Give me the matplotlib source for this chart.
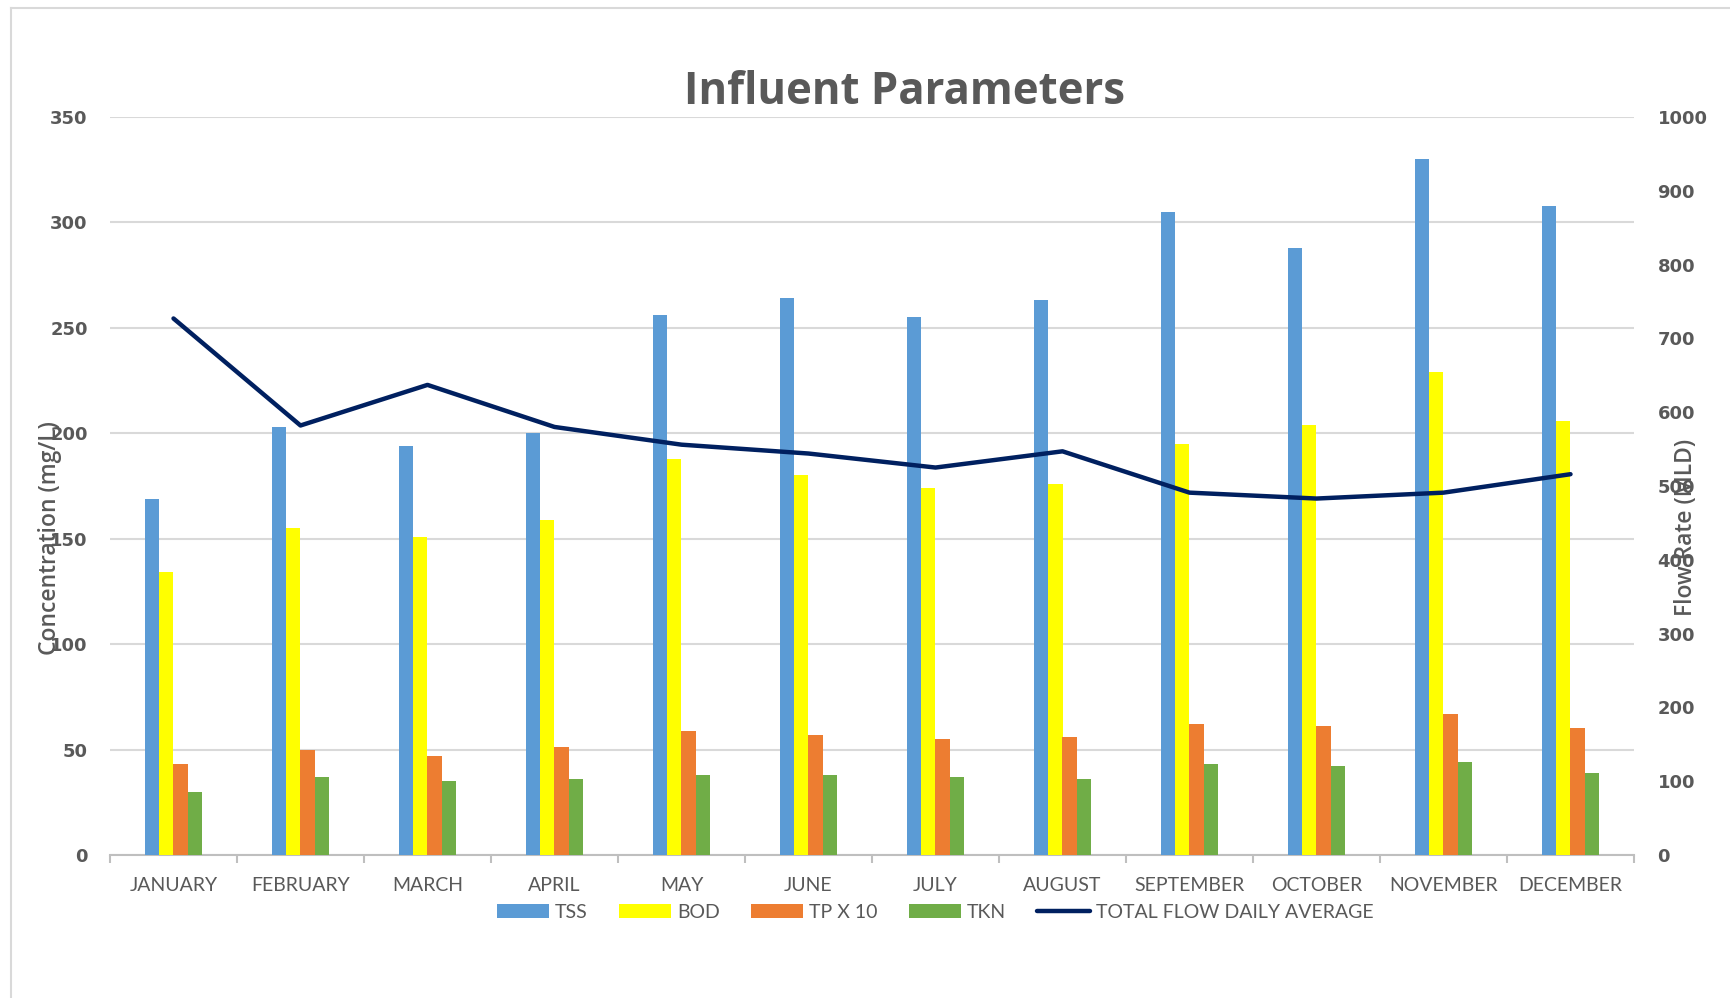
import matplotlib
matplotlib.use("Agg")
import matplotlib.pyplot as plt
import numpy as np
from matplotlib.patches import Patch
from matplotlib.lines import Line2D

months = ["JANUARY", "FEBRUARY", "MARCH", "APRIL", "MAY", "JUNE", "JULY",
          "AUGUST", "SEPTEMBER", "OCTOBER", "NOVEMBER", "DECEMBER"]
tss = [169, 203, 194, 200, 256, 264, 255, 263, 305, 288, 330, 308]
bod = [134, 155, 151, 159, 188, 180, 174, 176, 195, 204, 229, 206]
tp_x10 = [43, 50, 47, 51, 59, 57, 55, 56, 62, 61, 67, 60]
tkn = [30, 37, 35, 36, 38, 38, 37, 36, 43, 42, 44, 39]
flow = [727, 582, 637, 580, 556, 544, 525, 547, 491, 483, 491, 516]

series_names = ["TSS", "BOD", "TP X 10", "TKN"]
series_vals = [tss, bod, tp_x10, tkn]
colors = ["#5B9BD5", "#FFFF00", "#ED7D31", "#70AD47"]
line_color = "#002060"
text_gray = "#595959"
grid_gray = "#D9D9D9"

W, H = 1731, 998
fig = plt.figure(figsize=(W / 100, H / 100), dpi=100)
ax = fig.add_axes([110 / W, 1 - 855 / H, (1634 - 110) / W, (855 - 117) / H])
ax2 = ax.twinx()

x = np.arange(len(months))
bw = 0.113
for i, (name, vals, c) in enumerate(zip(series_names, series_vals, colors)):
    ax.bar(x + (i - 1.5) * bw, vals, width=bw, color=c, edgecolor="none", zorder=3)

ax2.plot(x, flow, color=line_color, lw=3.2, solid_capstyle="round", zorder=4)

ax.set_xlim(-0.5, 11.5)
ax.set_ylim(0, 350)
ax.set_yticks(np.arange(0, 351, 50))
ax2.set_ylim(0, 1000)
ax2.set_yticks(np.arange(0, 1001, 100))

ax.grid(axis="y", color=grid_gray, lw=1.5, zorder=0)
ax.set_axisbelow(True)

for a in (ax, ax2):
    for s in ("top", "left", "right"):
        a.spines[s].set_visible(False)
ax.spines["bottom"].set_color("#BFBFBF")
ax.spines["bottom"].set_linewidth(1.5)
ax2.spines["bottom"].set_visible(False)

ax.set_xticks(x)
ax.set_xticklabels(months, fontfamily="Lato", fontsize=14, color=text_gray)
ax.tick_params(axis="x", which="major", length=0, pad=16)
ax.set_xticks(np.arange(-0.5, 12, 1), minor=True)
ax.tick_params(axis="x", which="minor", length=6, width=1.5, color="#BFBFBF")

ax.tick_params(axis="y", length=0, pad=16)
ax2.tick_params(axis="y", length=0, pad=17)
for lab in list(ax.get_yticklabels()) + list(ax2.get_yticklabels()):
    lab.set_fontfamily("DejaVu Sans")
    lab.set_fontweight("bold")
    lab.set_fontsize(13)
    lab.set_color(text_gray)

fig.text(905 / W, 1 - 92 / H, "Influent Parameters", ha="center", va="center",
         fontfamily="Open Sans", fontweight="bold", fontsize=31.5, color=text_gray)
fig.text(50 / W, 1 - 538 / H, "Concentration (mg/L)", rotation=90, ha="center",
         va="center", fontfamily="Open Sans", fontweight="semibold", fontsize=16.5,
         color=text_gray)
fig.text(1686 / W, 1 - 527 / H, "Flow Rate (MLD)", rotation=90, ha="center",
         va="center", fontfamily="Open Sans", fontweight="semibold", fontsize=16.5,
         color=text_gray)

handles = [Patch(facecolor=c, edgecolor="none") for c in colors]
handles.append(Line2D([0], [0], color=line_color, lw=3.2, solid_capstyle="round"))
labels = series_names + ["TOTAL FLOW DAILY AVERAGE"]
leg = fig.legend(handles, labels, loc="center", bbox_to_anchor=(935 / W, 1 - 912 / H),
                 ncol=5, frameon=False, handlelength=2.7, handleheight=0.72,
                 handletextpad=0.3, columnspacing=1.6,
                 prop={"family": "Lato", "size": 14})
for t in leg.get_texts():
    t.set_color(text_gray)

# chart border
fig.add_artist(Line2D([11 / W, 11 / W], [0, 1 - 8 / H], color=grid_gray, lw=1.5,
                      transform=fig.transFigure))
fig.add_artist(Line2D([11 / W, 1], [1 - 8 / H, 1 - 8 / H], color=grid_gray, lw=1.5,
                      transform=fig.transFigure))

fig.savefig("out.png", dpi=100, facecolor="white")
